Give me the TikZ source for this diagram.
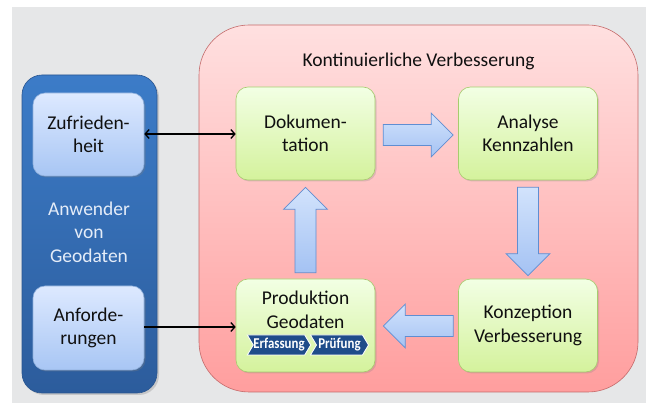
\documentclass[tikz,border=0pt]{standalone}
\usepackage{fontspec}
\setmainfont{Carlito}
\newfontfamily\chevfont[FakeStretch=0.86]{Carlito}
\usetikzlibrary{calc,shapes.symbols,shadows,arrows.meta}
\definecolor{bggrey}{HTML}{E6E7E8}
\definecolor{userTop}{HTML}{3C7CC8}
\definecolor{userBot}{HTML}{2C5C9C}
\definecolor{userLine}{HTML}{2A5690}
\definecolor{lbTop}{HTML}{DDE9FF}
\definecolor{lbBot}{HTML}{A8C6F4}
\definecolor{lbLine}{HTML}{90B0DC}
\definecolor{redTop}{HTML}{FFE0E0}
\definecolor{redBot}{HTML}{FF9E9E}
\definecolor{redLine}{HTML}{C46A6A}
\definecolor{grTop}{HTML}{F2FFE4}
\definecolor{grBot}{HTML}{D4F29C}
\definecolor{grLine}{HTML}{A6CC6E}
\definecolor{baTop}{HTML}{D2E3FC}
\definecolor{baBot}{HTML}{A4C2F3}
\definecolor{baLine}{HTML}{5F8ED2}
\definecolor{chevFill}{HTML}{1F4C8A}
\definecolor{paneltext}{HTML}{E4ECF8}
\definecolor{txt}{HTML}{101010}
\newcommand\bigfont{\fontsize{19.5}{23.5}\selectfont}
\newcommand\blockarrow[2]{%
  \path[barrow] let \p1=#1, \p2=#2,
     \n1={atan2(\y2-\y1,\x2-\x1)}, \n2={veclen(\x2-\x1,\y2-\y1)} in
     {[shift={(\p1)}, rotate=\n1]
      (0,-10.5) -- ({\n2-22},-10.5) -- ({\n2-22},-22) -- (\n2,0)
      -- ({\n2-22},22) -- ({\n2-22},10.5) -- (0,10.5) -- cycle};
}
\tikzset{
  barb/.tip={Straight Barb[length=4pt,width=9pt,line width=1.3pt]},
  userpanel/.style={draw=userLine, line width=0.6pt, rounded corners=20pt,
    top color=userTop, bottom color=userBot,
    drop shadow={opacity=0.3, shadow xshift=2pt, shadow yshift=-2pt}},
  kvppanel/.style={draw=redLine, line width=0.6pt, rounded corners=50pt,
    top color=redTop, bottom color=redBot},
  lbbox/.style={draw=lbLine, line width=0.6pt, rounded corners=12pt,
    top color=lbTop, bottom color=lbBot, minimum width=111pt, minimum height=83pt,
    align=center, text=txt, font=\bigfont, inner sep=0pt,
    drop shadow={opacity=0.3, shadow xshift=1.5pt, shadow yshift=-1.5pt}},
  grbox/.style={draw=grLine, line width=0.6pt, rounded corners=12pt,
    top color=grTop, bottom color=grBot, minimum width=139pt, minimum height=93pt,
    align=center, text=txt, font=\bigfont, inner sep=0pt,
    drop shadow={opacity=0.25, shadow xshift=1.5pt, shadow yshift=-1.5pt}},
  barrow/.style={draw=baLine, line width=0.7pt, top color=baTop, bottom color=baBot},
  chev/.style={shape=signal, signal to=east, signal from=west, signal pointer angle=118,
    fill=chevFill, draw=white, line width=0.8pt, text=white, inner sep=0pt,
    minimum height=20pt, font=\chevfont\bfseries\fontsize{15}{16}\selectfont},
  conn/.style={draw=black, line width=1.3pt}
}
\begin{document}
\begin{tikzpicture}[x=1pt,y=-1pt]
\useasboundingbox (0,0) rectangle (646,403);
\fill[white] (0,0) rectangle (646,403);
\fill[bggrey] (12,7) rectangle (646,403);

% left panel
\node[userpanel, minimum width=135pt, minimum height=318pt] (users) at (89.5,234) {};
\node[text=paneltext, font=\bigfont, align=center] (userlbl) at (89,232) {Anwender\\von\\Geodaten};
\node[lbbox] (zuf) at (88.5,134.5) {Zufrieden-\\heit};
\node[lbbox, minimum height=84pt] (anf) at (88.5,328) {Anforde-\\rungen};

% right panel
\node[kvppanel, minimum width=439pt, minimum height=367pt] (kvp) at (418.5,208.5) {};
\node[text=txt, font=\bigfont, anchor=base] (title) at (418.5,67) {Kontinuierliche Verbesserung};

\node[grbox] (dok) at (305.5,133.5) {Dokumen-\\tation};
\node[grbox] (ana) at (528,133.5) {Analyse\\Kennzahlen};
\node[grbox] (kon) at (528,325.5) {Konzeption\\Verbesserung};
\node[grbox] (prod) at (305.5,325.5) {};
\node[text=txt, font=\bigfont, align=center] (prodlbl) at ($(prod.north)+(0,31)$) {Produktion\\Geodaten};
\node[chev, minimum width=61pt] (erf) at (279,345) {Erfassung};
\node[chev, minimum width=58pt] (pruef) at (339.5,345) {Prüfung};

% block arrows
\blockarrow{($(dok.east)+(8,1.5)$)}{($(ana.west)+(-5,1.5)$)}
\blockarrow{($(ana.south)+(0,7)$)}{($(kon.north)+(0,-3)$)}
\blockarrow{($(kon.west)+(-5,0.5)$)}{($(prod.east)+(8,0.5)$)}
\blockarrow{($(prod.north)+(0,-6)$)}{($(dok.south)+(0,7)$)}

% connectors
\draw[conn, barb-barb] (zuf.east |- 0,134) -- (dok.west |- 0,134);
\draw[conn, -barb] (anf.east |- 0,327) -- (prod.west |- 0,327);
\end{tikzpicture}
\end{document}
